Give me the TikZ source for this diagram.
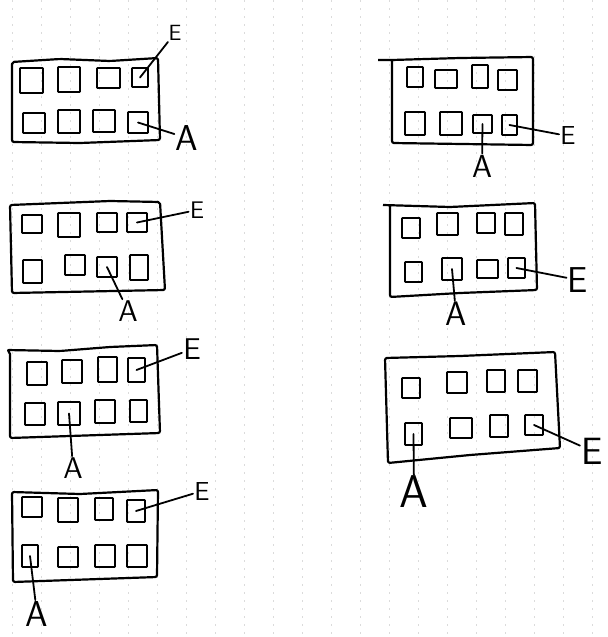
\documentclass[tikz,border=0pt]{standalone}
\tikzset{
 sq/.style={draw, line width=0.9pt, inner sep=0pt, rounded corners=0.3pt},
 frame/.style={line width=1.1pt, line join=round, rounded corners=1pt},
 lead/.style={line width=0.9pt, line cap=round},
 lab/.style={inner sep=0.5pt, font={\fontsize{#1}{#1}\selectfont\sffamily}},
 gridline/.style={gray!28, line width=0.4pt, dash pattern=on 1pt off 3pt},
}
\newcommand\Sq[5]{\node[sq, minimum width={(#4-#2)*0.5pt}, minimum height={(#5-#3)*0.5pt}] (#1) at ({(#2+#4)/2},{(#3+#5)/2}) {};}
\begin{document}
\begin{tikzpicture}[x=0.5pt,y=-0.5pt]
\useasboundingbox[fill=white] (0,0) rectangle (608,637);
% faint grid of the paper
\foreach \k in {0,...,20} {\draw[gridline] ({12+29*\k},0) -- ({12+29*\k},637);}

% ---------- left column ----------
% panel 1
\draw[frame] (12,62) -- (60,59) -- (110,61) -- (158,58) -- (160,140) -- (80,143) -- (12,142) -- cycle;
\Sq{a11}{20}{68}{43}{93}\Sq{a12}{58}{67}{80}{92}\Sq{a13}{97}{68}{120}{88}\Sq{a14}{132}{68}{148}{87}
\Sq{a15}{23}{113}{45}{133}\Sq{a16}{58}{110}{80}{133}\Sq{a17}{93}{110}{115}{132}\Sq{a18}{128}{112}{148}{133}
\node[lab=11] (E1) at (175,33) {E};
\node[lab=18] (A1) at (187,138) {A};
\draw[lead] (a14.center) -- (E1);
\draw[lead] (a18.center) -- (A1);

% panel 2
\draw[frame] (10,205) -- (60,203) -- (110,201) -- (160,202) -- (165,290) -- (12,293) -- cycle;
\Sq{b1}{22}{215}{42}{233}\Sq{b2}{58}{213}{80}{237}\Sq{b3}{97}{213}{117}{232}\Sq{b4}{127}{213}{147}{232}
\Sq{b5}{23}{260}{42}{283}\Sq{b6}{65}{255}{85}{275}\Sq{b7}{97}{257}{117}{277}\Sq{b8}{130}{255}{148}{280}
\node[lab=12] (E2) at (197,210) {E};
\node[lab=15] (A2) at (128,311) {A};
\draw[lead] (b4.center) -- (E2);
\draw[lead] (b7.center) -- (A2);

% panel 3
\draw[frame] (10,352) -- (7,350) -- (60,351) -- (110,347) -- (157,345) -- (160,433) -- (10,438) -- cycle;
\Sq{c1}{27}{362}{47}{385}\Sq{c2}{62}{360}{82}{383}\Sq{c3}{98}{357}{117}{382}\Sq{c4}{128}{358}{145}{382}
\Sq{c5}{25}{403}{45}{425}\Sq{c6}{58}{402}{80}{425}\Sq{c7}{95}{400}{115}{423}\Sq{c8}{130}{400}{147}{422}
\node[lab=15] (E3) at (192,349) {E};
\node[lab=15] (A3) at (73,468) {A};
\draw[lead] (c4.center) -- (E3);
\draw[lead] (c6.center) -- (A3);

% panel 4
\draw[frame] (12,492) -- (80,494) -- (158,490) -- (157,577) -- (13,582) -- cycle;
\Sq{d1}{22}{497}{42}{517}\Sq{d2}{58}{498}{78}{522}\Sq{d3}{95}{498}{113}{520}\Sq{d4}{127}{500}{145}{522}
\Sq{d5}{22}{545}{38}{567}\Sq{d6}{58}{547}{78}{567}\Sq{d7}{95}{545}{115}{567}\Sq{d8}{127}{545}{147}{567}
\node[lab=13] (E4) at (202,491) {E};
\node[lab=18] (A4) at (37,614) {A};
\draw[lead] (d4.center) -- (E4);
\draw[lead] (d5.center) -- (A4);

% ---------- right column ----------
% panel 5
\draw[frame] (378,60) -- (392,60) -- (460,58) -- (533,57) -- (533,145) -- (392,143) -- (392,60);
\Sq{e1}{407}{67}{423}{87}\Sq{e2}{435}{70}{457}{88}\Sq{e3}{472}{65}{488}{88}\Sq{e4}{498}{70}{517}{90}
\Sq{e5}{405}{112}{425}{135}\Sq{e6}{440}{112}{462}{135}\Sq{e7}{473}{115}{492}{133}\Sq{e8}{502}{115}{517}{135}
\node[lab=13] (E5) at (568,136) {E};
\node[lab=16] (A5) at (482,166) {A};
\draw[lead] (e8.center) -- (E5);
\draw[lead] (e7.center) -- (A5);

% panel 6
\draw[frame] (383,205) -- (450,207) -- (535,203) -- (537,290) -- (460,293) -- (390,297) -- (390,205);
\Sq{f1}{402}{218}{420}{238}\Sq{f2}{437}{213}{458}{235}\Sq{f3}{477}{213}{495}{233}\Sq{f4}{505}{213}{523}{235}
\Sq{f5}{405}{262}{422}{282}\Sq{f6}{442}{258}{462}{280}\Sq{f7}{477}{260}{498}{278}\Sq{f8}{508}{258}{525}{278}
\node[lab=18] (E6) at (578,280) {E};
\node[lab=17] (A6) at (456,314) {A};
\draw[lead] (f8.center) -- (E6);
\draw[lead] (f6.center) -- (A6);

% panel 7
\draw[frame] (385,358) -- (460,356) -- (555,352) -- (560,448) -- (470,455) -- (388,463) -- cycle;
\Sq{g1}{402}{378}{420}{398}\Sq{g2}{447}{372}{467}{393}\Sq{g3}{487}{370}{505}{392}\Sq{g4}{518}{370}{537}{392}
\Sq{g5}{405}{423}{422}{445}\Sq{g6}{450}{418}{472}{438}\Sq{g7}{490}{415}{508}{437}\Sq{g8}{525}{415}{543}{435}
\node[lab=19] (E7) at (592,451) {E};
\node[lab=23] (A7) at (414,492) {A};
\draw[lead] (g8.center) -- (E7);
\draw[lead] (g5.center) -- (A7);
\end{tikzpicture}
\end{document}
